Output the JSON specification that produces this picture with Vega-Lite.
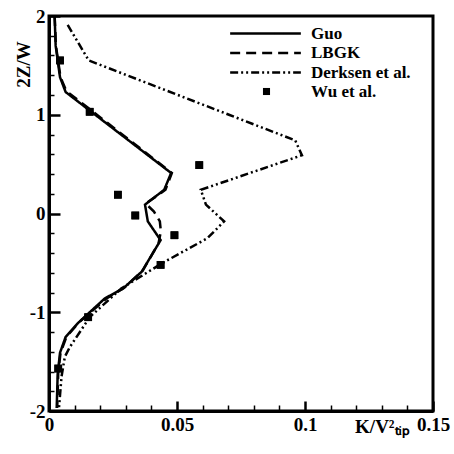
{
  "$schema": "https://vega.github.io/schema/vega-lite/v6.json",
  "width": 384,
  "height": 395,
  "autosize": {"type": "none"},
  "padding": {"left": 49, "top": 16, "right": 21, "bottom": 43},
  "config": {
    "view": {"stroke": "black", "strokeWidth": 3},
    "font": "Liberation Serif",
    "axis": {"ticks": true, "zindex": 1, "domainColor": "black", "domainWidth": 3, "tickColor": "black", "tickOpacity": 1, "grid": false,
      "labelFont": "Liberation Serif", "labelFontSize": 19, "labelFontWeight": "bold", "labelColor": "black",
      "titleFont": "Liberation Serif", "titleFontSize": 19, "titleFontWeight": "bold", "titleColor": "black"},
    "legend": {"orient": "none", "title": null, "padding": 0, "labelFont": "Liberation Serif", "labelFontSize": 17,
      "labelFontWeight": "bold", "labelColor": "black", "rowPadding": 1.5}
  },
  "datasets": {
    "curves": [
      {"series": "Guo", "i": 1, "k": 0.0022, "z": 2.0}, {"series": "Guo", "i": 2, "k": 0.0026, "z": 1.7},
      {"series": "Guo", "i": 3, "k": 0.0043, "z": 1.38}, {"series": "Guo", "i": 4, "k": 0.0065, "z": 1.23},
      {"series": "Guo", "i": 5, "k": 0.0477, "z": 0.41}, {"series": "Guo", "i": 6, "k": 0.045, "z": 0.24},
      {"series": "Guo", "i": 7, "k": 0.0375, "z": 0.09}, {"series": "Guo", "i": 8, "k": 0.0386, "z": -0.08},
      {"series": "Guo", "i": 9, "k": 0.0436, "z": -0.27}, {"series": "Guo", "i": 10, "k": 0.0362, "z": -0.59},
      {"series": "Guo", "i": 11, "k": 0.0289, "z": -0.76}, {"series": "Guo", "i": 12, "k": 0.0218, "z": -0.86},
      {"series": "Guo", "i": 13, "k": 0.0113, "z": -1.11}, {"series": "Guo", "i": 14, "k": 0.0065, "z": -1.25},
      {"series": "Guo", "i": 15, "k": 0.0043, "z": -1.41}, {"series": "Guo", "i": 16, "k": 0.0034, "z": -1.62},
      {"series": "Guo", "i": 17, "k": 0.003, "z": -1.97},
      {"series": "LBGK", "i": 1, "k": 0.0022, "z": 2.0}, {"series": "LBGK", "i": 2, "k": 0.0027, "z": 1.7},
      {"series": "LBGK", "i": 3, "k": 0.0045, "z": 1.38}, {"series": "LBGK", "i": 4, "k": 0.0068, "z": 1.24},
      {"series": "LBGK", "i": 5, "k": 0.048, "z": 0.41}, {"series": "LBGK", "i": 6, "k": 0.0455, "z": 0.24},
      {"series": "LBGK", "i": 7, "k": 0.0378, "z": 0.1}, {"series": "LBGK", "i": 8, "k": 0.041, "z": 0.02},
      {"series": "LBGK", "i": 9, "k": 0.0433, "z": -0.08}, {"series": "LBGK", "i": 10, "k": 0.0437, "z": -0.18},
      {"series": "LBGK", "i": 11, "k": 0.0428, "z": -0.3}, {"series": "LBGK", "i": 12, "k": 0.0366, "z": -0.58},
      {"series": "LBGK", "i": 13, "k": 0.0295, "z": -0.75}, {"series": "LBGK", "i": 14, "k": 0.0225, "z": -0.86},
      {"series": "LBGK", "i": 15, "k": 0.0118, "z": -1.1}, {"series": "LBGK", "i": 16, "k": 0.0068, "z": -1.25},
      {"series": "LBGK", "i": 17, "k": 0.0045, "z": -1.41}, {"series": "LBGK", "i": 18, "k": 0.0036, "z": -1.62},
      {"series": "LBGK", "i": 19, "k": 0.0032, "z": -1.97},
      {"series": "Derksen et al.", "i": 1, "k": 0.0073, "z": 1.91}, {"series": "Derksen et al.", "i": 2, "k": 0.0155, "z": 1.55},
      {"series": "Derksen et al.", "i": 3, "k": 0.0703, "z": 1.0}, {"series": "Derksen et al.", "i": 4, "k": 0.0962, "z": 0.74},
      {"series": "Derksen et al.", "i": 5, "k": 0.0988, "z": 0.59}, {"series": "Derksen et al.", "i": 6, "k": 0.0593, "z": 0.24},
      {"series": "Derksen et al.", "i": 7, "k": 0.0613, "z": 0.09}, {"series": "Derksen et al.", "i": 8, "k": 0.0684, "z": -0.08},
      {"series": "Derksen et al.", "i": 9, "k": 0.0619, "z": -0.25}, {"series": "Derksen et al.", "i": 10, "k": 0.0444, "z": -0.5},
      {"series": "Derksen et al.", "i": 11, "k": 0.0282, "z": -0.76}, {"series": "Derksen et al.", "i": 12, "k": 0.0159, "z": -1.05},
      {"series": "Derksen et al.", "i": 13, "k": 0.0082, "z": -1.35}, {"series": "Derksen et al.", "i": 14, "k": 0.0062, "z": -1.45},
      {"series": "Derksen et al.", "i": 15, "k": 0.0049, "z": -1.65}, {"series": "Derksen et al.", "i": 16, "k": 0.0039, "z": -1.97}
    ],
    "wu": [
      {"series": "Wu et al.", "k": 0.0043, "z": 1.55}, {"series": "Wu et al.", "k": 0.0159, "z": 1.03},
      {"series": "Wu et al.", "k": 0.0269, "z": 0.19}, {"series": "Wu et al.", "k": 0.0337, "z": -0.02},
      {"series": "Wu et al.", "k": 0.0587, "z": 0.49}, {"series": "Wu et al.", "k": 0.049, "z": -0.22},
      {"series": "Wu et al.", "k": 0.0436, "z": -0.52}, {"series": "Wu et al.", "k": 0.0153, "z": -1.05},
      {"series": "Wu et al.", "k": 0.0036, "z": -1.57}
    ]
  },
  "resolve": {"axis": {"x": "independent", "y": "independent"}},
  "layer": [
    {
      "data": {"name": "wu"},
      "mark": {"type": "point", "filled": true, "color": "black", "size": 60, "opacity": 1},
      "encoding": {
        "x": {"field": "k", "type": "quantitative", "scale": {"domain": [0, 0.15], "nice": false, "zero": false},
          "axis": {"orient": "bottom", "values": [0, 0.05, 0.1, 0.15], "labelExpr": "datum.value + ''", "tickSize": -10, "tickWidth": 2.5,
            "labelPadding": 14, "labelBaseline": "top", "labelFlush": false, "labelOverlap": false,
            "title": "K/V²ₜᵢₚ", "titleX": 333, "titleY": 21, "titleAlign": "center", "titleBaseline": "alphabetic"}},
        "y": {"field": "z", "type": "quantitative", "scale": {"domain": [-2, 2], "nice": false, "zero": false},
          "axis": {"orient": "left", "values": [-2, -1, 0, 1, 2], "labelExpr": "datum.value + ''", "tickSize": -11, "tickWidth": 2.5,
            "labelPadding": 15, "labelFlush": false, "labelOverlap": false,
            "title": "2Z/W", "titleX": -26, "titleY": 48, "titleAngle": -90, "titleAlign": "center", "titleBaseline": "middle"}},
        "shape": {"field": "series", "type": "nominal", "scale": {"domain": ["Wu et al."], "range": ["square"]},
          "legend": {"legendX": 209, "legendY": 67, "symbolSize": 50, "symbolStrokeWidth": 0, "symbolFillColor": "black",
            "symbolStrokeColor": "black", "labelOffset": 36}}
      }
    },
    {
      "data": {"name": "wu"},
      "mark": {"type": "point", "shape": "square", "filled": true, "color": "black", "size": 60, "opacity": 1},
      "encoding": {
        "x": {"field": "k", "type": "quantitative",
          "axis": {"orient": "bottom", "values": [0.01, 0.02, 0.03, 0.04, 0.06, 0.07, 0.08, 0.09, 0.11, 0.12, 0.13, 0.14],
            "labels": false, "domain": false, "tickSize": -6, "tickWidth": 1.5, "title": null}},
        "y": {"field": "z", "type": "quantitative",
          "axis": {"orient": "left", "values": [-1.8, -1.6, -1.4, -1.2, -0.8, -0.6, -0.4, -0.2, 0.2, 0.4, 0.6, 0.8, 1.2, 1.4, 1.6, 1.8],
            "labels": false, "domain": false, "tickSize": -5, "tickWidth": 1.5, "title": null}}
      }
    },
    {
      "data": {"name": "curves"},
      "mark": {"type": "line", "color": "black", "strokeWidth": 2.5},
      "encoding": {
        "x": {"field": "k", "type": "quantitative", "axis": null},
        "y": {"field": "z", "type": "quantitative", "axis": null},
        "strokeDash": {"field": "series", "type": "nominal",
          "scale": {"domain": ["Guo", "LBGK", "Derksen et al."], "range": [[1, 0], [10, 6], [8, 3, 2, 3, 2, 3]]},
          "legend": {"legendX": 208, "legendY": 9, "symbolType": "M-5,0H5", "symbolSize": 200, "symbolStrokeWidth": 2.5,
            "symbolStrokeColor": "black", "symbolFillColor": "transparent", "labelOffset": 37}},
        "order": {"field": "i", "type": "quantitative"}
      }
    }
  ]
}
